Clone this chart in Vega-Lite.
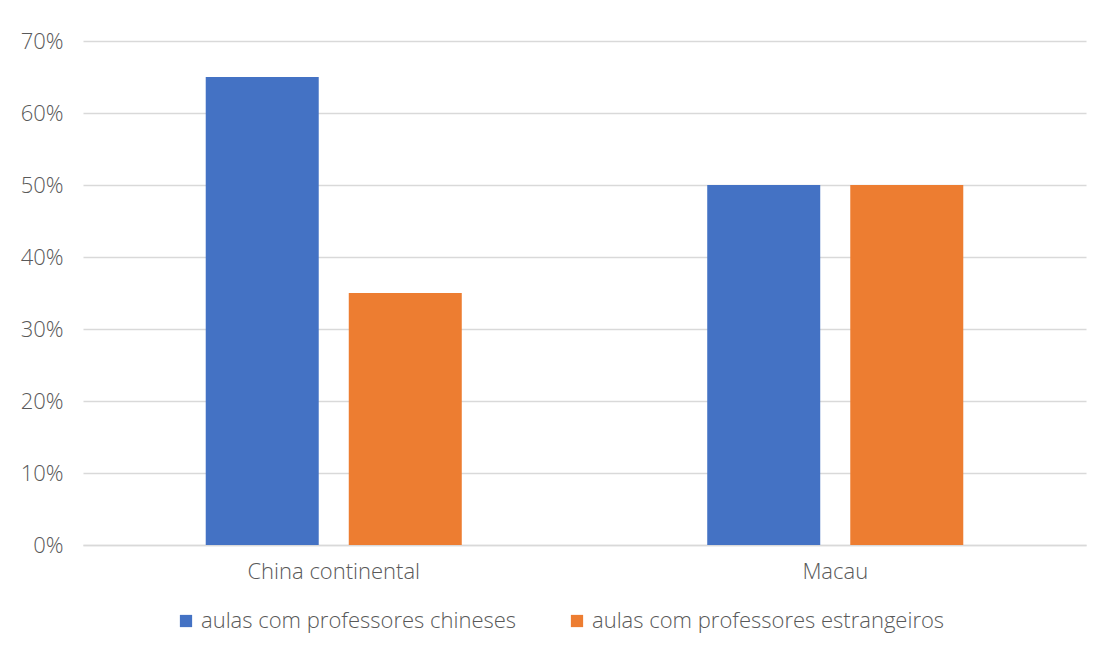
{
  "$schema": "https://vega.github.io/schema/vega-lite/v6.json",
  "width": 1003,
  "height": 504,
  "autosize": {"type": "none"},
  "padding": {"left": 83, "top": 41, "right": 18, "bottom": 105},
  "background": "white",
  "data": {
    "values": [
      {"regiao": "China continental", "aulas": "aulas com professores chineses", "pct": 0.65},
      {"regiao": "China continental", "aulas": "aulas com professores estrangeiros", "pct": 0.35},
      {"regiao": "Macau", "aulas": "aulas com professores chineses", "pct": 0.5},
      {"regiao": "Macau", "aulas": "aulas com professores estrangeiros", "pct": 0.5}
    ]
  },
  "mark": {"type": "bar"},
  "encoding": {
    "x": {
      "field": "regiao",
      "type": "nominal",
      "sort": null,
      "scale": {"paddingInner": 0, "paddingOuter": 0},
      "axis": {
        "title": null,
        "labelAngle": 0,
        "domainColor": "#d9d9d9",
        "domainWidth": 1.5,
        "ticks": false,
        "labelPadding": 16,
        "labelFontSize": 22,
        "labelFontWeight": 300,
        "labelColor": "#595959",
        "labelFont": "Open Sans"
      }
    },
    "xOffset": {
      "field": "aulas",
      "type": "nominal",
      "sort": null,
      "scale": {"paddingInner": 0.21, "paddingOuter": 0.858}
    },
    "y": {
      "field": "pct",
      "type": "quantitative",
      "scale": {"domain": [0, 0.7], "nice": false},
      "axis": {
        "title": null,
        "format": ".0%",
        "values": [0, 0.1, 0.2, 0.3, 0.4, 0.5, 0.6, 0.7],
        "domain": false,
        "ticks": false,
        "labelPadding": 20,
        "labelFontSize": 22,
        "labelFontWeight": 300,
        "labelColor": "#595959",
        "labelFont": "Open Sans",
        "gridColor": "#d9d9d9",
        "gridWidth": 1.5
      }
    },
    "color": {
      "field": "aulas",
      "type": "nominal",
      "sort": null,
      "scale": {"range": ["#4472c4", "#ed7d31"]},
      "legend": {
        "title": null,
        "orient": "none",
        "direction": "horizontal",
        "legendX": 92,
        "legendY": 569,
        "symbolType": "square",
        "symbolSize": 150,
        "symbolStrokeWidth": 0,
        "symbolOpacity": 1,
        "labelFontSize": 22,
        "labelFontWeight": 300,
        "labelColor": "#595959",
        "labelFont": "Open Sans",
        "labelOffset": 4,
        "columnPadding": 49,
        "labelLimit": 500
      }
    }
  },
  "config": {"view": {"stroke": null}}
}
